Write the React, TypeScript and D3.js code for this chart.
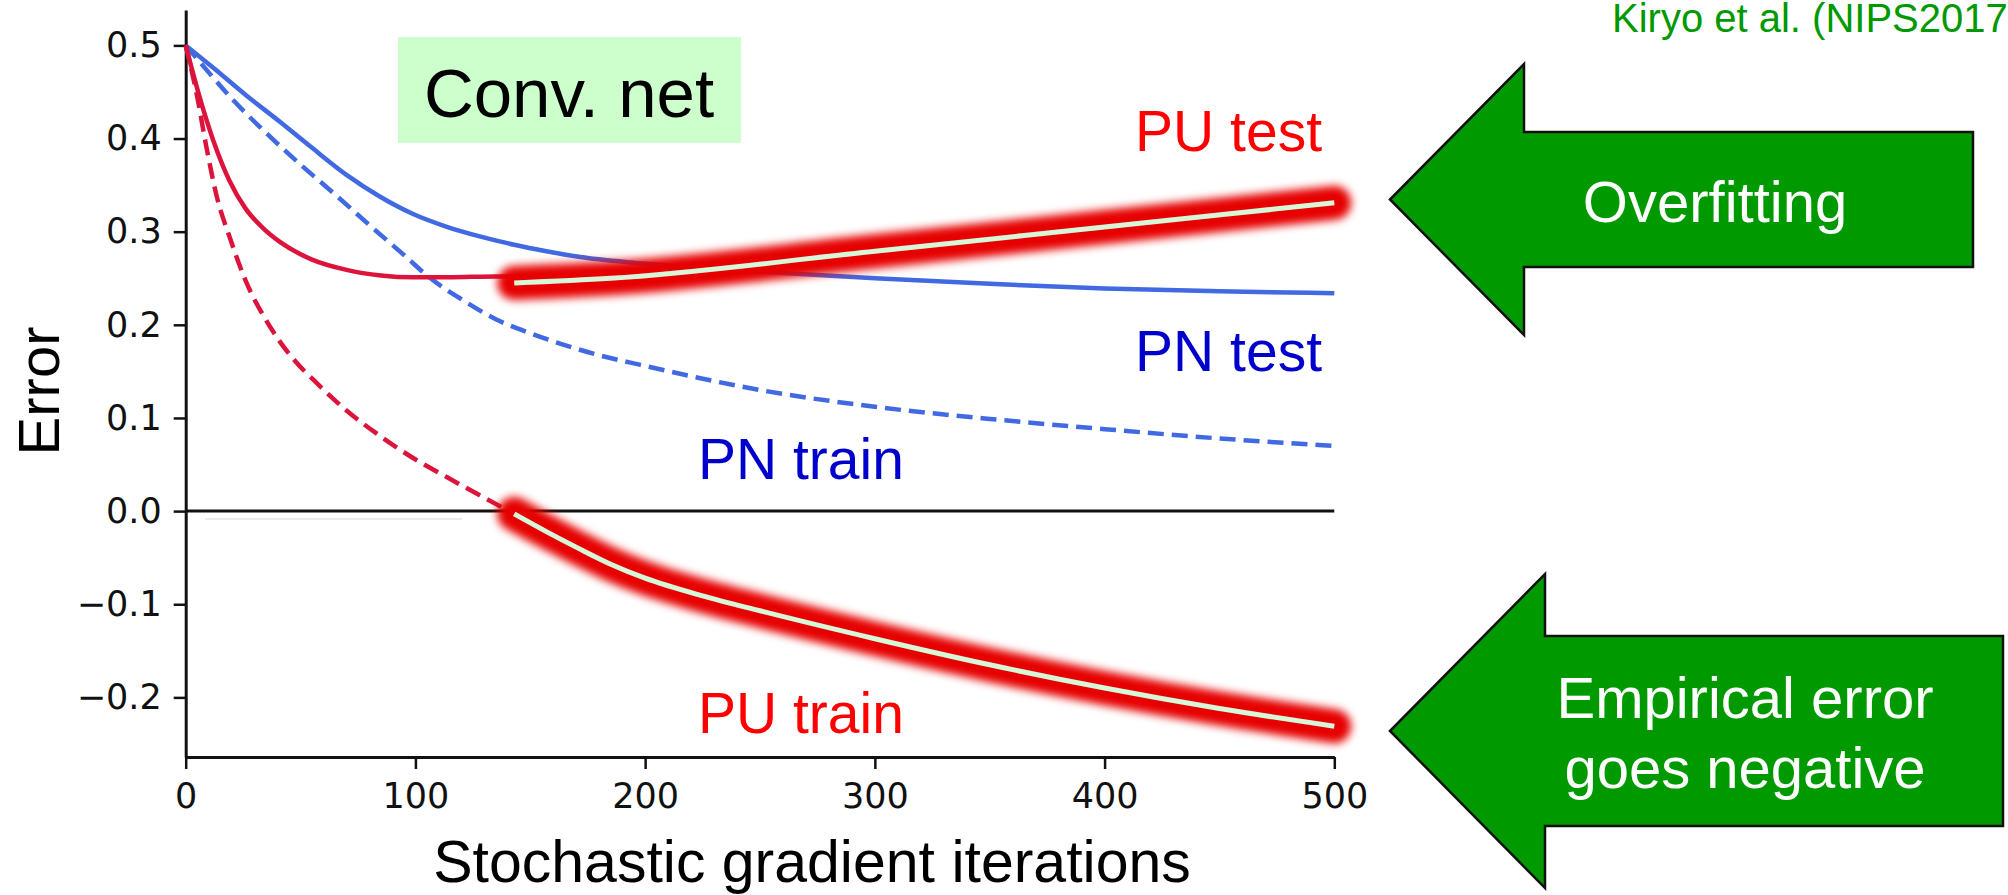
import { useRef, useEffect } from 'react';
import * as d3 from 'd3';

// axis ticks
const iterTicks = [0, 100, 200, 300, 400, 500];
const errTicks = [-0.2, -0.1, 0.0, 0.1, 0.2, 0.3, 0.4, 0.5];

// PN test (blue, solid)
const pnTestIter = [0, 12, 26, 41, 55, 70, 85, 99, 114, 128, 143, 157, 171, 198, 250, 300, 350, 400, 450, 500];
const pnTestErr = [0.5, 0.476, 0.447, 0.418, 0.39, 0.361, 0.337, 0.319, 0.305, 0.295, 0.286, 0.279, 0.273, 0.266, 0.257, 0.25, 0.244, 0.239, 0.236, 0.234];

// PN train (blue, dashed)
const pnTrainIter = [0, 10, 20, 35, 50, 65, 80, 95, 106, 121, 135, 150, 164, 179, 198, 250, 300, 350, 400, 450, 500];
const pnTrainErr = [0.5, 0.471, 0.443, 0.406, 0.372, 0.34, 0.307, 0.275, 0.251, 0.226, 0.206, 0.191, 0.179, 0.168, 0.157, 0.13, 0.112, 0.099, 0.088, 0.078, 0.07];

// PU test (red, solid) + highlighted part
const puTestIter = [0, 6, 12, 19, 26, 34, 41, 55, 70, 85, 99, 114, 135, 150];
const puTestErr = [0.5, 0.445, 0.398, 0.355, 0.325, 0.303, 0.289, 0.27, 0.259, 0.253, 0.251, 0.251, 0.252, 0.252];
const puTestHiIter = [143, 185, 300, 400, 500];
const puTestHiErr = [0.245, 0.25, 0.279, 0.305, 0.331];

// PU train (red, dashed) + highlighted part
const puTrainIter = [0, 5, 9, 13.5, 19, 26.5, 34, 41, 48, 56, 70, 85, 99, 114, 128, 140];
const puTrainErr = [0.5, 0.445, 0.391, 0.338, 0.295, 0.245, 0.209, 0.182, 0.16, 0.14, 0.108, 0.08, 0.057, 0.036, 0.017, 0.001];
const puTrainHiIter = [143, 157, 171, 185, 200, 225, 250, 300, 350, 400, 450, 500];
const puTrainHiErr = [-0.003, -0.022, -0.04, -0.057, -0.072, -0.091, -0.107, -0.137, -0.165, -0.19, -0.212, -0.231];

const sans = '"Liberation Sans", Arial, sans-serif';

export default function App() {
  const svgRef = useRef<SVGSVGElement>(null);

  useEffect(() => {
    const width = 2008;
    const height = 895;

    const svg = d3.select(svgRef.current)
      .attr('width', width)
      .attr('height', height);
    svg.selectAll('*').remove();

    const x = d3.scaleLinear().domain([0, 500]).range([185.7, 1334.3]);
    const y = d3.scaleLinear().domain([-0.264, 0.538]).range([757, 10]);

    const defs = svg.append('defs');
    defs.append('filter')
      .attr('id', 'glow')
      .attr('filterUnits', 'userSpaceOnUse')
      .attr('x', 0).attr('y', 0).attr('width', width).attr('height', height)
      .append('feGaussianBlur')
      .attr('stdDeviation', 4);

    // Conv. net box
    svg.append('rect')
      .attr('x', 398).attr('y', 37).attr('width', 343).attr('height', 106)
      .attr('fill', '#ccffcc');
    svg.append('text')
      .attr('x', 569).attr('y', 117)
      .attr('text-anchor', 'middle')
      .attr('font-family', sans).attr('font-size', 69)
      .text('Conv. net');

    // axes
    const xAxis = svg.append('g')
      .attr('transform', `translate(0,${y.range()[0]})`)
      .call(d3.axisBottom(x).tickValues(iterTicks).tickFormat(d3.format('d'))
        .tickSize(12).tickSizeOuter(0).tickPadding(14));
    const yAxis = svg.append('g')
      .attr('transform', `translate(${x.range()[0]},0)`)
      .call(d3.axisLeft(y).tickValues(errTicks).tickFormat(d3.format('.1f'))
        .tickSize(12).tickSizeOuter(0).tickPadding(12));
    [xAxis, yAxis].forEach(g => {
      g.select('.domain').attr('stroke', '#111').attr('stroke-width', 3);
      g.selectAll('.tick line').attr('stroke', '#111').attr('stroke-width', 2.5);
      g.selectAll('.tick text')
        .attr('font-family', '"DejaVu Sans", sans-serif')
        .attr('font-size', 35)
        .attr('fill', '#111');
    });

    // zero line
    svg.append('line')
      .attr('x1', x(0)).attr('x2', x(500))
      .attr('y1', y(0)).attr('y2', y(0))
      .attr('stroke', '#111').attr('stroke-width', 3);
    svg.append('line')
      .attr('x1', 205).attr('x2', 462)
      .attr('y1', y(0) + 8).attr('y2', y(0) + 8)
      .attr('stroke', '#e4e4e4').attr('stroke-width', 1.5);

    const line = d3.line<[number, number]>()
      .x(d => x(d[0]))
      .y(d => y(d[1]))
      .curve(d3.curveMonotoneX);
    const pts = (a: number[], b: number[]) => a.map((v, i) => [v, b[i]] as [number, number]);

    const blue = '#4169e1';
    const red = '#dc143c';

    svg.append('path').attr('d', line(pts(pnTestIter, pnTestErr)))
      .attr('fill', 'none').attr('stroke', blue).attr('stroke-width', 4.5);
    svg.append('path').attr('d', line(pts(pnTrainIter, pnTrainErr)))
      .attr('fill', 'none').attr('stroke', blue).attr('stroke-width', 4.5)
      .attr('stroke-dasharray', '16,8');
    svg.append('path').attr('d', line(pts(puTestIter, puTestErr)))
      .attr('fill', 'none').attr('stroke', red).attr('stroke-width', 4.5);
    svg.append('path').attr('d', line(pts(puTrainIter, puTrainErr)))
      .attr('fill', 'none').attr('stroke', red).attr('stroke-width', 4.5)
      .attr('stroke-dasharray', '16,8');

    // highlighted segments
    [pts(puTestHiIter, puTestHiErr), pts(puTrainHiIter, puTrainHiErr)].forEach(p => {
      svg.append('path').attr('d', line(p))
        .attr('fill', 'none').attr('stroke', '#e60000').attr('stroke-width', 34)
        .attr('stroke-linecap', 'round').attr('stroke-linejoin', 'round')
        .attr('filter', 'url(#glow)');
      svg.append('path').attr('d', line(p))
        .attr('fill', 'none').attr('stroke', '#d8f6d8').attr('stroke-width', 5);
    });

    // curve labels
    const labels = [
      { t: 'PU test', x: 1322, y: 151, c: '#ff0000', a: 'end' },
      { t: 'PN test', x: 1322, y: 371, c: '#0000cc', a: 'end' },
      { t: 'PN train', x: 698, y: 479, c: '#0000cc', a: 'start' },
      { t: 'PU train', x: 698, y: 733, c: '#ff0000', a: 'start' },
    ];
    labels.forEach(l => {
      svg.append('text')
        .attr('x', l.x).attr('y', l.y)
        .attr('text-anchor', l.a)
        .attr('font-family', sans).attr('font-size', 57)
        .attr('fill', l.c)
        .text(l.t);
    });

    // axis titles
    svg.append('text')
      .attr('x', 812).attr('y', 882)
      .attr('text-anchor', 'middle')
      .attr('font-family', sans).attr('font-size', 59)
      .text('Stochastic gradient iterations');
    svg.append('text')
      .attr('transform', 'translate(59,391) rotate(-90)')
      .attr('text-anchor', 'middle')
      .attr('font-family', sans).attr('font-size', 58)
      .text('Error');

    // citation
    svg.append('text')
      .attr('x', 1612).attr('y', 32)
      .attr('font-family', sans).attr('font-size', 40)
      .attr('fill', '#009900')
      .text('Kiryo et al. (NIPS2017)');

    // green arrows
    const arrows = [
      { tip: 1390, head: 1524, right: 1973, cy: 199.5, hh: 135.5, sh: 67.5, lines: ['Overfitting'], tx: 1715, ty: 222 },
      { tip: 1390, head: 1545, right: 2003, cy: 731, hh: 157, sh: 95, lines: ['Empirical error', 'goes negative'], tx: 1745, ty: 718 },
    ];
    arrows.forEach(a => {
      const poly: [number, number][] = [
        [a.tip, a.cy], [a.head, a.cy - a.hh], [a.head, a.cy - a.sh], [a.right, a.cy - a.sh],
        [a.right, a.cy + a.sh], [a.head, a.cy + a.sh], [a.head, a.cy + a.hh],
      ];
      svg.append('path')
        .attr('d', d3.line()(poly) + 'Z')
        .attr('fill', '#009900').attr('stroke', '#111').attr('stroke-width', 2.5);
      a.lines.forEach((s, i) => {
        svg.append('text')
          .attr('x', a.tx).attr('y', a.ty + i * 70)
          .attr('text-anchor', 'middle')
          .attr('font-family', sans).attr('font-size', 58)
          .attr('fill', '#ffffff')
          .text(s);
      });
    });
  }, []);

  return (
    <svg ref={svgRef} style={{ position: 'absolute', left: 0, top: 0 }} />
  );
}
